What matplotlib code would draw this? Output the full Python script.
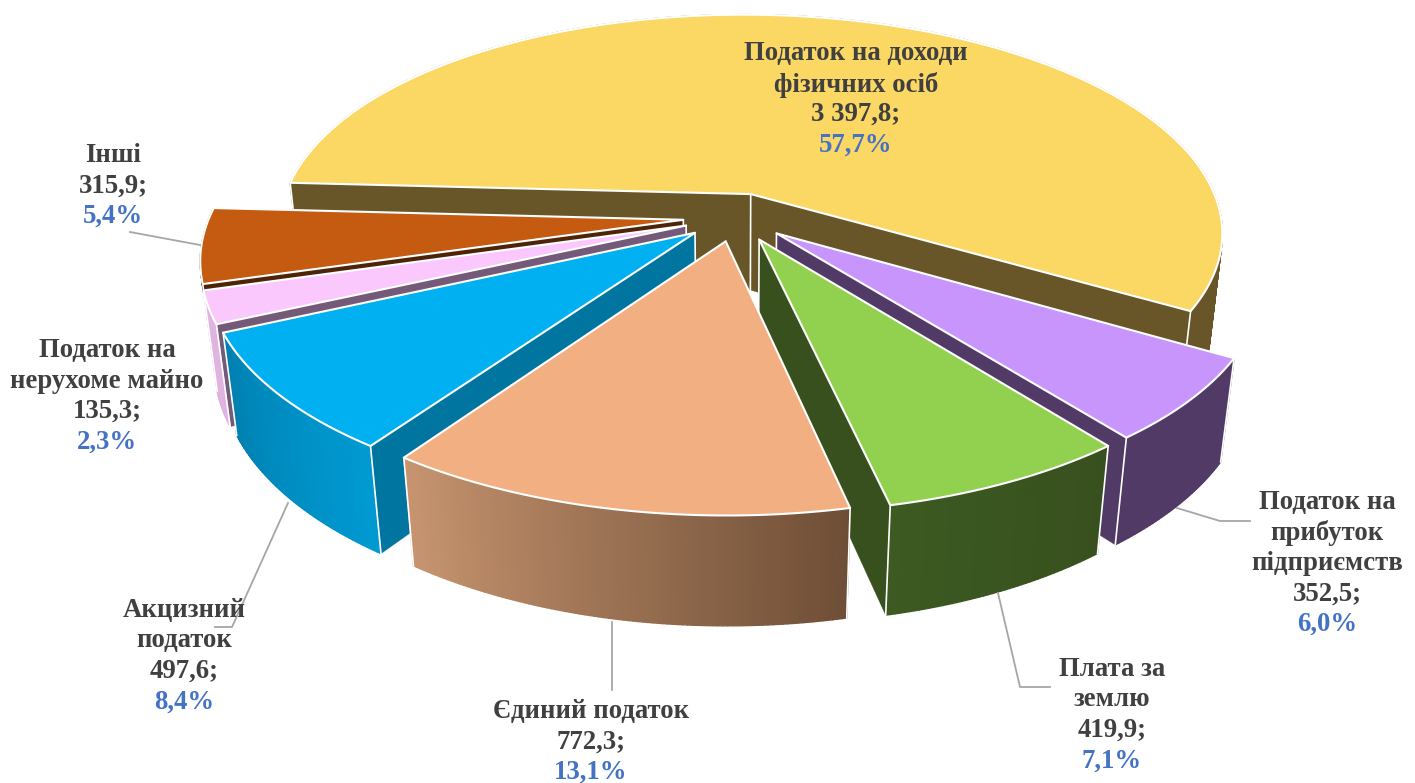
import numpy as np
import matplotlib
matplotlib.use('Agg')
import matplotlib.pyplot as plt

# data of the chart
names = ['Податок на доходи\nфізичних осіб', 'Податок на\nприбуток\nпідприємств', 'Плата за\nземлю',
         'Єдиний податок', 'Акцизний\nподаток', 'Податок на\nнерухоме майно', 'Інші']
values = [3397.8, 352.5, 419.9, 772.3, 497.6, 135.3, 315.9]
value_labels = ['3 397,8;', '352,5;', '419,9;', '772,3;', '497,6;', '135,3;', '315,9;']
pct_labels = ['57,7%', '6,0%', '7,1%', '13,1%', '8,4%', '2,3%', '5,4%']
top_colors = ['#FBD764', '#C795FB', '#92D050', '#F1AF82', '#00B0F0', '#FAC8FC', '#C55A11']
side_light = ['#685628', '#523A66', '#3C5A22', '#C89570', '#009AD2', '#E0B4E0', '#7A3A0C']
side_dark = ['#685628', '#523A66', '#38501E', '#6E4E36', '#0080B0', '#E0B4E0', '#5A2A08']
radial_colors = ['#685628', '#523A66', '#38501E', '#6E4E36', '#00759F', '#745A78', '#4E2408']
depths = [1, 1, 1, 1, 1, 1, 0.12]

# pie geometry
start = 177.4
cx, cy = 736, 217
R = 473
k = 0.460
D = 2750
h = 99.5
zp = 0.025
expl = 53
shear = 0.004

frac = np.array(values) / sum(values)
ang = start - np.concatenate(([0], np.cumsum(frac))) * 360


def project(u, v, z):
    s = 1 / (1 + v / D + z * zp)
    return cx + u * s, cy - (k * v - h * z) * s + shear * u


fig = plt.figure(figsize=(14.15, 7.83), dpi=100)
ax = fig.add_axes([0, 0, 1, 1])
ax.set_xlim(0, 1415)
ax.set_ylim(783, 0)
ax.axis('off')

# back to front
order = [0, 6, 5, 1, 4, 2, 3]
for z_i, i in enumerate(order):
    a0, a1 = ang[i], ang[i + 1]
    dz = depths[i]
    mid = np.radians((a0 + a1) / 2)
    ou, ov = expl * np.cos(mid), expl * np.sin(mid)
    t = np.radians(np.linspace(a0, a1, max(int(abs(a1 - a0) * 2), 8)))
    us = ou + R * np.cos(t)
    vs = ov + R * np.sin(t)

    # radial faces
    for e in [0, -1]:
        xa, ya = project(ou, ov, 0)
        xb, yb = project(us[e], vs[e], 0)
        xc, yc = project(us[e], vs[e], dz)
        xd, yd = project(ou, ov, dz)
        ax.fill([xa, xb, xc, xd], [ya, yb, yc, yd], color=radial_colors[i], lw=0.3, zorder=z_i)

    # outer wall
    c0 = np.array(matplotlib.colors.to_rgb(side_light[i]))
    c1 = np.array(matplotlib.colors.to_rgb(side_dark[i]))
    if i == 4:
        c0, c1 = c1, c0
    for j in range(len(t) - 1):
        xa, ya = project(us[j:j + 2], vs[j:j + 2], 0)
        xb, yb = project(us[j:j + 2], vs[j:j + 2], dz)
        # salmon and green get lighter going to the left
        col = c1 + (c0 - c1) * (j / (len(t) - 1))
        ax.fill([xa[0], xa[1], xb[1], xb[0]], [ya[0], ya[1], yb[1], yb[0]],
                color=col, lw=1.0, zorder=z_i)

    # white vertical corners
    for cu, cv in [(ou, ov), (us[0], vs[0]), (us[-1], vs[-1])]:
        xa, ya = project(cu, cv, 0)
        xb, yb = project(cu, cv, dz)
        ax.plot([xa, xb], [ya, yb], color='white', lw=1.2, zorder=z_i)

    # top of the slice
    xt, yt = project(np.r_[ou, us], np.r_[ov, vs], 0)
    ax.fill(xt, yt, facecolor=top_colors[i], edgecolor='white', lw=1.5, zorder=z_i, joinstyle='round')

# leader lines
leader_x = [[130, 200], [1177, 1220, 1250], [998, 1020, 1050], [612, 612], [288, 232, 215]]
leader_y = [[232, 245], [508, 521, 521], [593, 687, 687], [622, 690], [503, 627, 627]]
for lx, ly in zip(leader_x, leader_y):
    ax.plot(lx, ly, color='#A6A6A6', lw=1.3, zorder=20)

# labels
label_x = [856, 1327, 1112, 591, 184, 107, 113]
label_y = [41, 490, 657, 699, 598, 338, 143]
line_h = 30.5
for i in range(len(names)):
    lines = names[i].split('\n') + [value_labels[i]]
    y = label_y[i]
    for ln in lines:
        ax.text(label_x[i], y, ln, ha='center', va='top', fontsize=19.3, fontweight='bold',
                family='Liberation Serif', color='#404040', zorder=30)
        y += line_h
    ax.text(label_x[i], y, pct_labels[i], ha='center', va='top', fontsize=19.3, fontweight='bold',
            family='Liberation Serif', color='#4472C4', zorder=30)

fig.savefig('out.png', dpi=100)
